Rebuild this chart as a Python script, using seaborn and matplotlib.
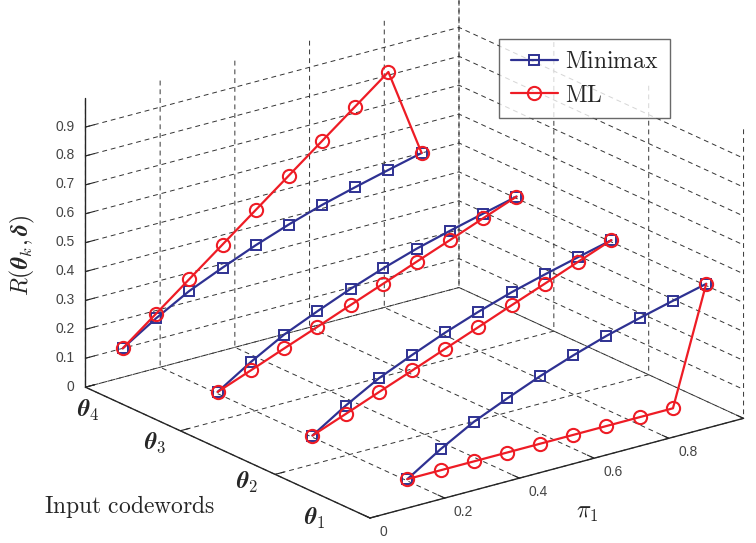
import matplotlib
matplotlib.use("Agg")
import matplotlib.pyplot as plt
import seaborn as sns
import numpy as np
from mpl_toolkits.mplot3d import proj3d

sns.set_style("white")
plt.rcParams["font.family"] = ["Liberation Sans", "DejaVu Sans"]
plt.rcParams["mathtext.fontset"] = "cm"
plt.rcParams["grid.linestyle"] = (0, (5, 4))
plt.rcParams["grid.color"] = "#333333"
plt.rcParams["grid.linewidth"] = 0.7

# risk values
pi1 = [0.1, 0.189, 0.278, 0.367, 0.456, 0.544, 0.633, 0.722, 0.811, 0.9]
codewords = [1, 2, 3, 4]
codeword_labels = [r"$\boldsymbol{\theta}_1$", r"$\boldsymbol{\theta}_2$",
                   r"$\boldsymbol{\theta}_3$", r"$\boldsymbol{\theta}_4$"]
risk_minimax = [0.100, 0.173, 0.237, 0.287, 0.334, 0.375, 0.412, 0.443, 0.472, 0.500]
risk_ml_theta1 = [0.100, 0.100, 0.100, 0.100, 0.100, 0.100, 0.100, 0.100, 0.100, 0.500]
risk_ml_theta2 = [0.100, 0.144, 0.189, 0.233, 0.278, 0.322, 0.367, 0.411, 0.456, 0.500]
risk_ml_theta3 = [0.100, 0.144, 0.189, 0.233, 0.278, 0.322, 0.367, 0.411, 0.456, 0.500]
risk_ml_theta4 = [0.100, 0.189, 0.278, 0.367, 0.456, 0.544, 0.633, 0.722, 0.811, 0.500]
risk_ml = [risk_ml_theta1, risk_ml_theta2, risk_ml_theta3, risk_ml_theta4]

x_ticks = [0, 0.2, 0.4, 0.6, 0.8, 1.0]
x_tick_labels = ["0", "0.2", "0.4", "0.6", "0.8", ""]
z_ticks = [0, 0.1, 0.2, 0.3, 0.4, 0.5, 0.6, 0.7, 0.8, 0.9]
z_tick_labels = ["0", "0.1", "0.2", "0.3", "0.4", "0.5", "0.6", "0.7", "0.8", "0.9"]

blue = "#2e3192"
red = "#ee1c25"

W, H = 756, 543
fig = plt.figure(figsize=(W / 100, H / 100), dpi=100)
ax = fig.add_axes([0, -0.196, 1, 1.392], projection="3d", computed_zorder=False)
ax.set_proj_type("ortho")
ax.view_init(elev=20.5, azim=-127.3)
aspect = (1, 1, 0.657)
ax.set_box_aspect(aspect)

# back rows first so the front ones sit on top
for k in reversed(codewords):
    ys = [k] * len(pi1)
    ax.plot(pi1, ys, risk_minimax, color=blue, lw=1.6, marker="s", ms=6.5,
            mfc="none", mew=1.4, label="Minimax" if k == 1 else None)
    ax.plot(pi1, ys, risk_ml[k - 1], color=red, lw=1.6, marker="o", ms=9.5,
            mfc="none", mew=1.5, label="ML" if k == 1 else None)

ax.set_xlim(0, 1)
ax.set_ylim(1, 4)
ax.set_zlim(0, 1)
ax.set_xticks(x_ticks)
for t in ax.set_xticklabels(x_tick_labels, fontsize=10, color="#444444"):
    t.set_ha("left")
    t.set_va("center")
ax.set_yticks(codewords)
ax.set_yticklabels([""] * len(codewords))
ax.set_zticks(z_ticks)
for t in ax.set_zticklabels(z_tick_labels, fontsize=10, color="#444444"):
    t.set_ha("right")
    t.set_va("center")
ax.xaxis.set_tick_params(pad=1.2)
ax.zaxis.set_tick_params(pad=-3.4)

for axis in (ax.xaxis, ax.yaxis, ax.zaxis):
    axis.pane.fill = False
    axis.pane.set_edgecolor("none")
    axis.line.set_color("#262626")
    axis.line.set_linewidth(1.0)
    axis._axinfo["tick"]["inward_factor"] = 0.0
    axis._axinfo["tick"]["outward_factor"] = 0.3
    axis._axinfo["tick"]["color"] = "#262626"

# fit the projected box onto the reference pixel corners
def to_px(x, y, z):
    xs, ys, _ = proj3d.proj_transform(x, y, z, ax.M)
    return np.array(ax.transData.transform((xs, ys)))

front = np.array([370, H - 518])
right = np.array([743, H - 418])
back = np.array([85, H - 387])

fig.canvas.draw()
cur = np.linalg.norm(to_px(1, 1, 0) - to_px(0, 1, 0)) + np.linalg.norm(to_px(0, 4, 0) - to_px(0, 1, 0))
tgt = np.linalg.norm(right - front) + np.linalg.norm(back - front)
ax.set_box_aspect(aspect, zoom=tgt / cur)
fig.canvas.draw()
shift = front - to_px(0, 1, 0)
pos = ax.get_position(original=True)
ax.set_position([pos.x0 + shift[0] / W, pos.y0 + shift[1] / H, pos.width, pos.height])

# codeword labels, placed as in the original
label_xy = [(315, 518), (247, 482), (155, 443), (88, 410)]
for lab, (px, py) in zip(codeword_labels, label_xy):
    fig.text(px / W, 1 - py / H, lab, ha="center", va="center", fontsize=17)

fig.text(22 / W, 1 - 255 / H, r"$R(\boldsymbol{\theta}_k,\boldsymbol{\delta})$",
         rotation=90, ha="center", va="center", fontsize=17)
fig.text(130 / W, 1 - 507 / H, r"$\mathrm{Input\ codewords}$",
         ha="center", va="center", fontsize=17)
fig.text(587 / W, 1 - 513 / H, r"$\pi_1$", ha="center", va="center", fontsize=17)

leg = fig.legend(loc="upper left", bbox_to_anchor=(499 / W, 1 - 39 / H),
                 borderaxespad=0, fancybox=False, edgecolor="#444444",
                 prop={"size": 17}, handlelength=2.0,
                 handletextpad=0.3, labelspacing=0.5, borderpad=0.5)
for t in leg.get_texts():
    t.set_text(r"$\mathrm{%s}$" % t.get_text())
leg.get_frame().set_linewidth(1.0)

fig.savefig("out.png", dpi=100)
